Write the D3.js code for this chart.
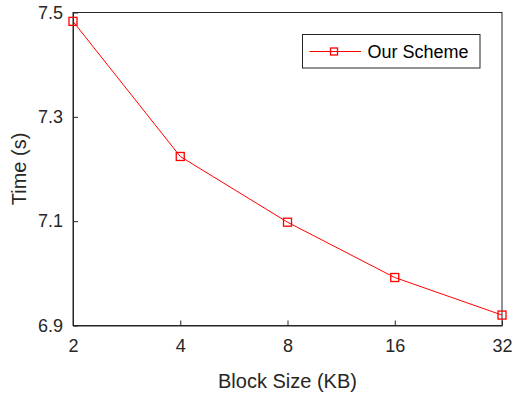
<!DOCTYPE html>
<html>
<head>
<meta charset="utf-8">
<script src="https://cdn.jsdelivr.net/npm/d3@7"></script>
<style>
  html, body { margin: 0; padding: 0; background: #fff; }
  svg { display: block; font-family: "Liberation Sans", Arial, sans-serif; }
</style>
</head>
<body>
<svg id="chart" width="513" height="393"></svg>
<script>
// Block sizes (KB) and measured time (s)
const blockSizes = [2, 4, 8, 16, 32];
const timeValues = [7.483, 7.224, 7.098, 6.992, 6.920];
const xTickLabels = ["2", "4", "8", "16", "32"];
const yTickValues = [6.9, 7.1, 7.3, 7.5];
const seriesName = "Our Scheme";

const width = 513, height = 393;
const plot = { left: 73, right: 502, top: 12.5, bottom: 325.5 };

const svg = d3.select("#chart");

const x = d3.scaleLog().base(2).domain([2, 32]).range([plot.left, plot.right]);
const y = d3.scaleLinear().domain([6.9, 7.5]).range([plot.bottom, plot.top]);

const axisColor = "#262626";

// White plot area with box outline
svg.append("rect")
  .attr("x", plot.left).attr("y", plot.top)
  .attr("width", plot.right - plot.left).attr("height", plot.bottom - plot.top)
  .attr("fill", "#fff").attr("stroke", axisColor).attr("stroke-width", 1);

// Bottom axis: ticks pointing inward
const xAxis = d3.axisBottom(x)
  .tickValues(blockSizes)
  .tickFormat((d, i) => xTickLabels[i])
  .tickSizeInner(-5).tickSizeOuter(0).tickPadding(14);
const gx = svg.append("g").attr("transform", `translate(0,${plot.bottom})`).call(xAxis);
gx.select(".domain").attr("stroke", axisColor);
gx.selectAll(".tick line").attr("stroke", axisColor);
gx.selectAll(".tick text").attr("fill", axisColor).attr("font-size", 18)
  .attr("font-family", "Liberation Sans, Arial, sans-serif");

// Left axis
const yAxis = d3.axisLeft(y)
  .tickValues(yTickValues)
  .tickFormat(d3.format(".1f"))
  .tickSizeInner(-5).tickSizeOuter(0).tickPadding(10);
const gy = svg.append("g").attr("transform", `translate(${plot.left},0)`).call(yAxis);
gy.select(".domain").attr("stroke", axisColor);
gy.selectAll(".tick line").attr("stroke", axisColor);
gy.selectAll(".tick text").attr("fill", axisColor).attr("font-size", 18)
  .attr("font-family", "Liberation Sans, Arial, sans-serif");

// Axis titles
svg.append("text")
  .attr("x", (plot.left + plot.right) / 2).attr("y", 388)
  .attr("text-anchor", "middle").attr("font-size", 20).attr("fill", axisColor)
  .text("Block Size (KB)");

svg.append("text")
  .attr("transform", `translate(26,${(plot.top + plot.bottom) / 2}) rotate(-90)`)
  .attr("text-anchor", "middle").attr("font-size", 20).attr("fill", axisColor)
  .text("Time (s)");

// Data series
const data = blockSizes.map((b, i) => ({ b, t: timeValues[i] }));
const red = "#ff0000";

svg.append("path")
  .datum(data)
  .attr("fill", "none").attr("stroke", red).attr("stroke-width", 1)
  .attr("d", d3.line().x(d => x(d.b)).y(d => y(d.t)));

const mk = 8;
svg.selectAll("rect.marker")
  .data(data).enter().append("rect")
  .attr("class", "marker")
  .attr("x", d => x(d.b) - mk / 2).attr("y", d => y(d.t) - mk / 2)
  .attr("width", mk).attr("height", mk)
  .attr("fill", "none").attr("stroke", red).attr("stroke-width", 1.3);

// Legend
const lg = svg.append("g").attr("transform", "translate(302.5,34.5)");
lg.append("rect")
  .attr("width", 177.5).attr("height", 33.5)
  .attr("fill", "#fff").attr("stroke", axisColor).attr("stroke-width", 1);
lg.append("line")
  .attr("x1", 7).attr("x2", 58.5).attr("y1", 17).attr("y2", 17)
  .attr("stroke", red).attr("stroke-width", 1);
lg.append("rect")
  .attr("x", 31.5 - 3.5).attr("y", 17 - 3.5)
  .attr("width", 7).attr("height", 7)
  .attr("fill", "none").attr("stroke", red).attr("stroke-width", 1.3);
lg.append("text")
  .attr("x", 65).attr("y", 23.5)
  .attr("font-size", 18).attr("fill", "#000")
  .text(seriesName);
</script>
</body>
</html>
